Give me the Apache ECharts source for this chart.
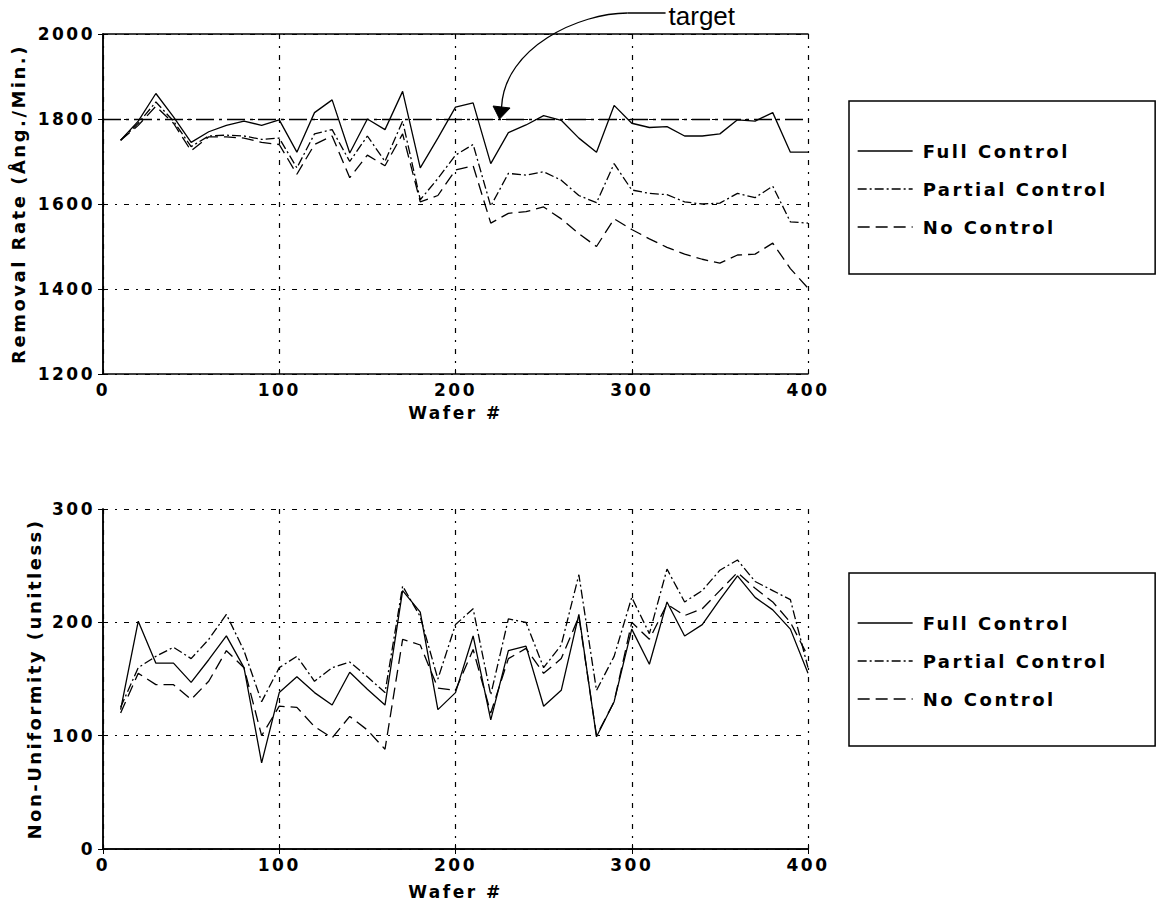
<!DOCTYPE html>
<html>
<head>
<meta charset="utf-8">
<script src="https://cdn.jsdelivr.net/npm/echarts@6/dist/echarts.min.js"></script>
<style>
  html, body { margin: 0; padding: 0; background: #fff; }
  #chart { width: 1156px; height: 920px; }
  /* widen the bold labels a little, like the old bitmap plotting font */
  #chart text[style*="bold"] { letter-spacing: 2.5px; }
</style>
</head>
<body>
<div id="chart"></div>
<script>
// ---- data ----
const wafers = [10, 20, 30, 40, 50, 60, 70, 80, 90, 100, 110, 120, 130, 140, 150, 160, 170, 180, 190, 200,
                210, 220, 230, 240, 250, 260, 270, 280, 290, 300, 310, 320, 330, 340, 350, 360, 370, 380, 390, 400];

const seriesNames = ['Full Control', 'Partial Control', 'No Control'];

// removal rate, Ang./Min.
const removalFull = [1750, 1795, 1860, 1805, 1745, 1770, 1785, 1795, 1785, 1798,
                     1722, 1815, 1845, 1720, 1800, 1775, 1865, 1685, 1755, 1828,
                     1838, 1695, 1768, 1786, 1808, 1797, 1755, 1722, 1832, 1790,
                     1780, 1782, 1760, 1760, 1765, 1798, 1795, 1815, 1722, 1722];
const removalPartial = [1750, 1790, 1840, 1795, 1735, 1760, 1762, 1760, 1752, 1755,
                        1685, 1765, 1775, 1700, 1760, 1700, 1795, 1610, 1660, 1715,
                        1740, 1595, 1672, 1668, 1676, 1656, 1620, 1603, 1695, 1633,
                        1625, 1622, 1605, 1600, 1602, 1625, 1615, 1642, 1558, 1555];
const removalNone = [1750, 1785, 1830, 1790, 1725, 1758, 1758, 1755, 1745, 1740,
                     1670, 1740, 1760, 1662, 1715, 1690, 1765, 1605, 1620, 1680,
                     1690, 1555, 1578, 1582, 1593, 1565, 1530, 1500, 1565, 1540,
                     1518, 1498, 1482, 1470, 1461, 1480, 1482, 1508, 1448, 1402];

// non-uniformity, unitless
const nonUnifFull = [123, 201, 164, 164, 147, 167, 188, 160, 76, 138,
                     152, 138, 127, 156, 141, 127, 228, 209, 123, 138,
                     188, 114, 175, 179, 126, 140, 207, 99, 130, 194,
                     163, 218, 188, 198, 220, 241, 222, 211, 194, 155];
const nonUnifPartial = [125, 160, 170, 178, 168, 185, 207, 175, 130, 160,
                        170, 148, 160, 165, 152, 138, 232, 205, 150, 198,
                        212, 136, 203, 200, 160, 180, 242, 140, 170, 222,
                        190, 247, 218, 228, 246, 255, 236, 228, 220, 160];
const nonUnifNone = [120, 155, 145, 145, 132, 148, 175, 160, 100, 126,
                     125, 108, 98, 117, 105, 88, 185, 180, 142, 140,
                     176, 120, 168, 177, 155, 168, 205, 100, 130, 200,
                     185, 216, 206, 212, 228, 244, 230, 218, 200, 170];

const targetRate = 1800;        // target removal rate
const targetArrowWafer = 225;   // where the "target" arrow lands on the target line

const removalTicks = { min: 1200, max: 2000, interval: 200 };
const nonUnifTicks = { min: 0, max: 300, interval: 100 };
const waferTicks = { min: 0, max: 400, interval: 100 };

// ---- styling ----
const FONT = 'DejaVu Sans';
const INK = '#000';
const GRID_DASH = [5, 7, 2, 7];
const LINE_W = 1.3;
const dashFor = {
  'Full Control': 'solid',
  'Partial Control': [9, 3, 2, 3],
  'No Control': [12, 6]
};
const labelFont = { fontFamily: FONT, fontWeight: 'bold', fontSize: 17, color: INK, formatter: v => String(v) };

const pairs = ys => wafers.map((w, i) => [w, ys[i]]);

const chart = echarts.init(document.getElementById('chart'), null, { renderer: 'svg' });

const grids = [
  { left: 103, top: 34, width: 705, height: 340, outerBoundsMode: 'none' },
  { left: 103, top: 509, width: 705, height: 340, outerBoundsMode: 'none' }
];

const xAxes = [];
const yAxes = [];
[0, 1].forEach(g => {
  // bottom wafer axis with labels and vertical grid lines
  xAxes.push({
    gridIndex: g, type: 'value', position: 'bottom',
    min: waferTicks.min, max: waferTicks.max, interval: waferTicks.interval,
    name: 'Wafer #', nameLocation: 'middle', nameGap: g === 0 ? 30 : 34,
    nameMoveOverlap: false,
    nameTextStyle: { fontFamily: FONT, fontWeight: 'bold', fontSize: 17, color: INK },
    axisLine: { show: true, lineStyle: { color: INK, width: 1.5 } },
    axisTick: { show: true, inside: true, length: 5, lineStyle: { color: INK, width: 1 } },
    axisLabel: Object.assign({ margin: 7 }, labelFont),
    splitLine: { show: true, lineStyle: { color: INK, width: 1.2, type: GRID_DASH } }
  });
  // top frame edge with ticks
  xAxes.push({
    gridIndex: g, type: 'value', position: 'top',
    min: waferTicks.min, max: waferTicks.max, interval: waferTicks.interval,
    axisLine: { show: true, lineStyle: { color: INK, width: 1.5 } },
    axisTick: { show: true, inside: true, length: 5, lineStyle: { color: INK, width: 1 } },
    axisLabel: { show: false },
    splitLine: { show: false }
  });
  const t = g === 0 ? removalTicks : nonUnifTicks;
  yAxes.push({
    gridIndex: g, type: 'value', position: 'left',
    min: t.min, max: t.max, interval: t.interval,
    name: g === 0 ? 'Removal Rate (Ång./Min.)' : 'Non-Uniformity (unitless)',
    nameLocation: 'middle', nameGap: g === 0 ? 76 : 60,
    nameMoveOverlap: false,
    nameTextStyle: { fontFamily: FONT, fontWeight: 'bold', fontSize: 18, color: INK },
    axisLine: { show: true, lineStyle: { color: INK, width: 1.5 } },
    axisTick: { show: true, inside: true, length: 5, lineStyle: { color: INK, width: 1 } },
    axisLabel: Object.assign({ margin: 8 }, labelFont),
    splitLine: { show: true, lineStyle: { color: INK, width: 1.2, type: GRID_DASH } }
  });
  yAxes.push({
    gridIndex: g, type: 'value', position: 'right',
    min: t.min, max: t.max, interval: t.interval,
    axisLine: { show: true, lineStyle: { color: INK, width: 1.5 } },
    axisTick: { show: true, inside: true, length: 5, lineStyle: { color: INK, width: 1 } },
    axisLabel: { show: false },
    splitLine: { show: false }
  });
});

function lineSeries(name, g, ys, extra) {
  return Object.assign({
    name: name, type: 'line',
    xAxisIndex: g * 2, yAxisIndex: g * 2,
    data: pairs(ys),
    symbol: 'none', animation: false, silent: true,
    lineStyle: { color: INK, width: LINE_W, type: dashFor[name] },
    itemStyle: { color: INK },
    z: 3
  }, extra || {});
}

const series = [
  lineSeries('Full Control', 0, removalFull, {
    markLine: {
      silent: true, symbol: 'none', animation: false,
      label: { show: false },
      lineStyle: { color: INK, width: LINE_W, type: [18, 5, 3, 5] },
      data: [{ yAxis: targetRate }]
    }
  }),
  lineSeries('Partial Control', 0, removalPartial),
  lineSeries('No Control', 0, removalNone),
  lineSeries('Full Control', 1, nonUnifFull),
  lineSeries('Partial Control', 1, nonUnifPartial),
  lineSeries('No Control', 1, nonUnifNone)
];

function legendAt(top) {
  return {
    orient: 'vertical', left: 849, top: top,
    data: seriesNames,
    itemWidth: 55, itemHeight: 14, itemGap: 20,
    padding: [41, 85, 38, 8],
    borderColor: INK, borderWidth: 1.5, borderRadius: 0,
    selectedMode: false,
    itemStyle: { opacity: 0, borderWidth: 0 },
    textStyle: { fontFamily: FONT, fontWeight: 'bold', fontSize: 18, color: INK, padding: [0, 0, 0, 5] },
    lineStyle: { width: LINE_W, opacity: 1 }
  };
}

chart.setOption({
  animation: false,
  backgroundColor: '#fff',
  grid: grids,
  xAxis: xAxes,
  yAxis: yAxes,
  legend: [legendAt(101), legendAt(573)],
  series: series
});

// "target" call-out: a short horizontal lead-in, a curved leader and an arrowhead on the target line
const tip = chart.convertToPixel({ gridIndex: 0 }, [targetArrowWafer, targetRate]);
const tx = tip[0], ty = tip[1];
chart.setOption({
  graphic: [
    {
      type: 'line', silent: true,
      shape: { x1: tx + 166, y1: ty - 106, x2: tx + 128, y2: ty - 106 },
      style: { stroke: INK, lineWidth: LINE_W }
    },
    {
      type: 'bezierCurve', silent: true,
      shape: { x1: tx + 128, y1: ty - 106, cpx1: tx + 80, cpy1: ty - 106, cpx2: tx + 5, cpy2: ty - 72, x2: tx + 2, y2: ty - 12 },
      style: { stroke: INK, lineWidth: LINE_W, fill: null }
    },
    {
      type: 'polygon', silent: true,
      shape: { points: [[tx, ty], [tx - 6.5, ty - 13], [tx + 10.5, ty - 11]] },
      style: { fill: INK, stroke: INK, lineWidth: 1 }
    },
    {
      type: 'text', silent: true,
      x: tx + 169, y: ty - 103,
      style: { text: 'target', font: '26px "Liberation Sans", Arial, sans-serif', fill: INK, verticalAlign: 'middle', align: 'left' }
    }
  ]
});
</script>
</body>
</html>
